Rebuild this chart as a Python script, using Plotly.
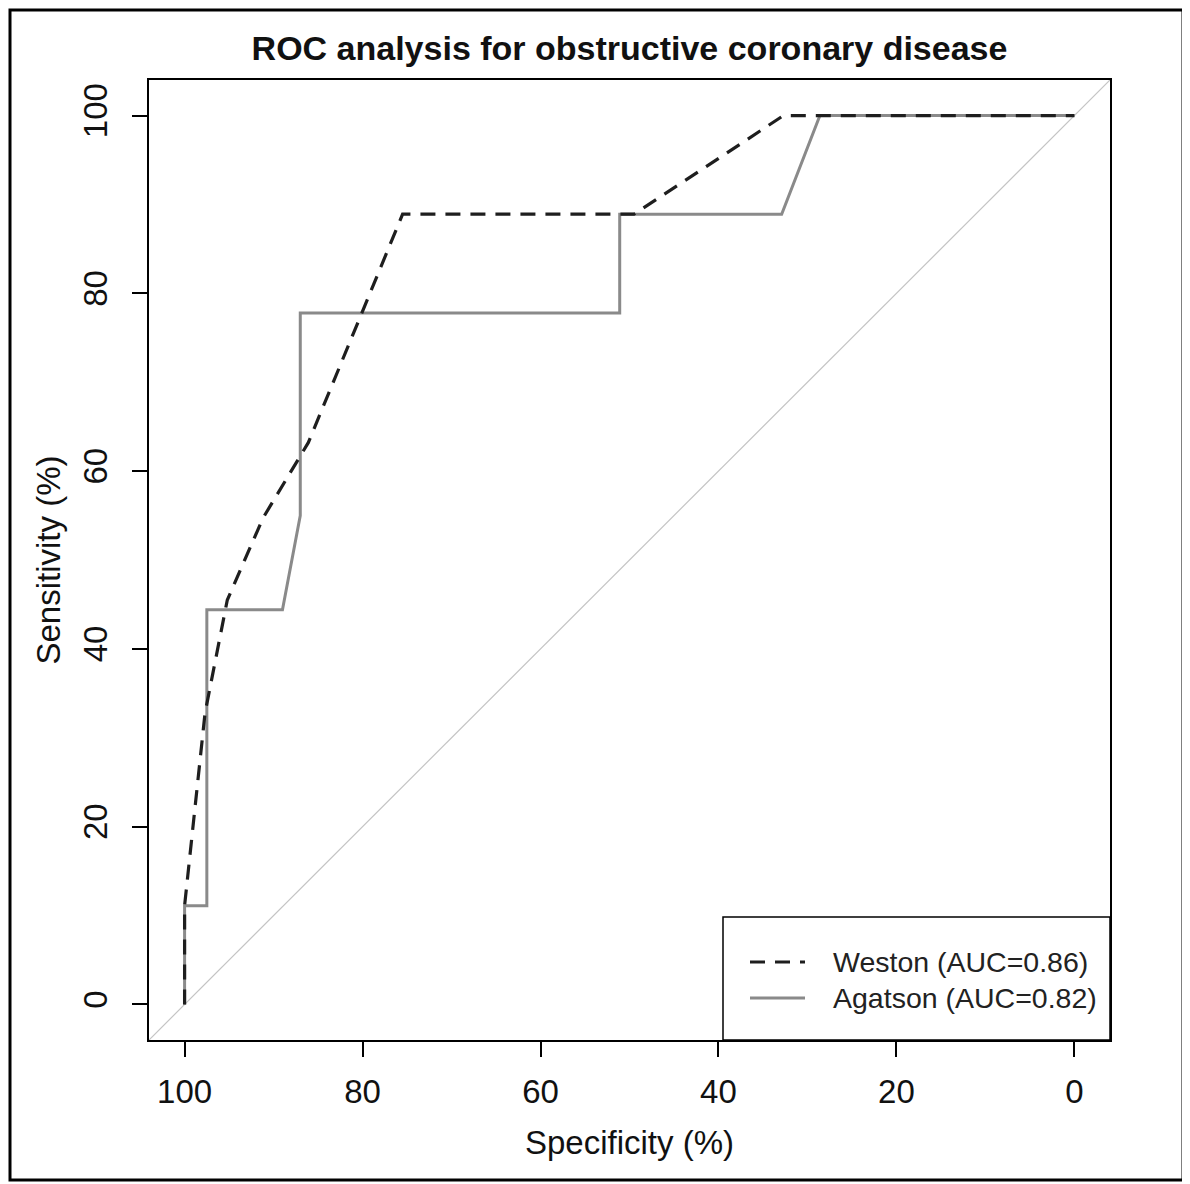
import plotly.graph_objects as go

# ---- data ----
weston_spec = [100, 100, 97.7, 95.2, 91.2, 86.1, 75.5, 49.5, 32.7, 0]
weston_sens = [0, 11.1, 32.8, 45.5, 54.7, 63.2, 88.9, 88.9, 100, 100]

agatston_spec = [100, 100, 97.5, 97.5, 89.0, 87.0, 87.0, 51.1, 51.1, 32.9, 28.6, 0]
agatston_sens = [0, 11.1, 11.1, 44.4, 44.4, 55.0, 77.8, 77.8, 88.9, 88.9, 100, 100]

tick_vals = [0, 20, 40, 60, 80, 100]
tick_text = ["0", "20", "40", "60", "80", "100"]

series_names = ["Weston (AUC=0.86)", "Agatson (AUC=0.82)"]
title_text = "ROC analysis for obstructive coronary disease"
x_title = "Specificity (%)"
y_title = "Sensitivity (%)"

# axis limits (R style 4% extension)
lo, hi = -4, 104

# the page body adds an 8px margin, so the figure is laid out 8px smaller
OFF = 8
W, H = 1190 - OFF, 1184 - OFF
L, T = 149 - OFF, 80 - OFF
R = W - (1110 - OFF)
B = H - (1040 - OFF)
pw, ph = W - L - R, H - T - B


def px_x(p):
    # p is a pixel x position in the reference image
    return (p - OFF - L) / pw


def px_y(p):
    return (H - B - (p - OFF)) / ph


FONT = "Liberation Sans, Arial, sans-serif"
WESTON_COLOR = "#1e1e1e"
AGATSTON_COLOR = "#8a8a8a"
DIAG_COLOR = "#c4c4c4"
WESTON_DASH = "15px,10px"
TEXT_COLOR = "#111111"

fig = go.Figure()

# chance diagonal across the whole plot region
fig.add_trace(go.Scatter(x=[hi, lo], y=[lo, hi], mode="lines",
                         line=dict(color=DIAG_COLOR, width=1.2),
                         showlegend=False, hoverinfo="skip"))

fig.add_trace(go.Scatter(x=agatston_spec, y=agatston_sens, mode="lines",
                         name=series_names[1],
                         line=dict(color=AGATSTON_COLOR, width=3),
                         showlegend=False))

fig.add_trace(go.Scatter(x=weston_spec, y=weston_sens, mode="lines",
                         name=series_names[0],
                         line=dict(color=WESTON_COLOR, width=3.2, dash=WESTON_DASH),
                         showlegend=False))

axis_common = dict(
    tickvals=tick_vals, ticktext=tick_text,
    ticks="outside", ticklen=15, tickwidth=2, tickcolor="black",
    showline=True, linewidth=2, linecolor="black", mirror=True,
    showgrid=False, zeroline=False,
    tickfont=dict(family=FONT, size=33, color=TEXT_COLOR),
)

fig.update_xaxes(range=[hi, lo], ticklabelstandoff=6,
                 title=dict(text=x_title, standoff=22,
                            font=dict(family=FONT, size=33, color=TEXT_COLOR)),
                 **axis_common)
fig.update_yaxes(range=[lo, hi], tickangle=-90, ticklabelstandoff=12,
                 title=dict(text=y_title, standoff=6,
                            font=dict(family=FONT, size=33, color=TEXT_COLOR)),
                 **axis_common)

shapes = []
# outer frame
shapes.append(dict(type="rect", xref="paper", yref="paper",
                   x0=px_x(10), x1=px_x(1183), y0=px_y(1180), y1=px_y(10),
                   line=dict(color="black", width=3), fillcolor="rgba(0,0,0,0)"))
# legend box
shapes.append(dict(type="rect", xref="paper", yref="paper",
                   x0=px_x(723), x1=px_x(1110), y0=px_y(1040), y1=px_y(917),
                   line=dict(color="black", width=1.5), fillcolor="white"))
# legend samples
shapes.append(dict(type="line", xref="paper", yref="paper",
                   x0=px_x(750), x1=px_x(805), y0=px_y(962), y1=px_y(962),
                   line=dict(color=WESTON_COLOR, width=3.2, dash=WESTON_DASH)))
shapes.append(dict(type="line", xref="paper", yref="paper",
                   x0=px_x(750), x1=px_x(805), y0=px_y(998), y1=px_y(998),
                   line=dict(color=AGATSTON_COLOR, width=3)))

annotations = [
    dict(xref="paper", yref="paper", x=px_x(831), y=px_y(962), text=series_names[0],
         showarrow=False, xanchor="left", yanchor="middle",
         font=dict(family=FONT, size=28.5, color="#222222")),
    dict(xref="paper", yref="paper", x=px_x(831), y=px_y(998), text=series_names[1],
         showarrow=False, xanchor="left", yanchor="middle",
         font=dict(family=FONT, size=28.5, color="#222222")),
]

fig.update_layout(
    width=W, height=H,
    margin=dict(l=L, r=R, t=T, b=B, pad=0),
    paper_bgcolor="white", plot_bgcolor="white",
    title=dict(text="<b>" + title_text + "</b>", x=0.5, xref="paper",
               y=1 - (48 - OFF) / H, yref="container", yanchor="middle", xanchor="center",
               font=dict(family=FONT, size=34, color=TEXT_COLOR)),
    shapes=shapes, annotations=annotations,
    showlegend=False,
)

fig.write_html("out.html")
